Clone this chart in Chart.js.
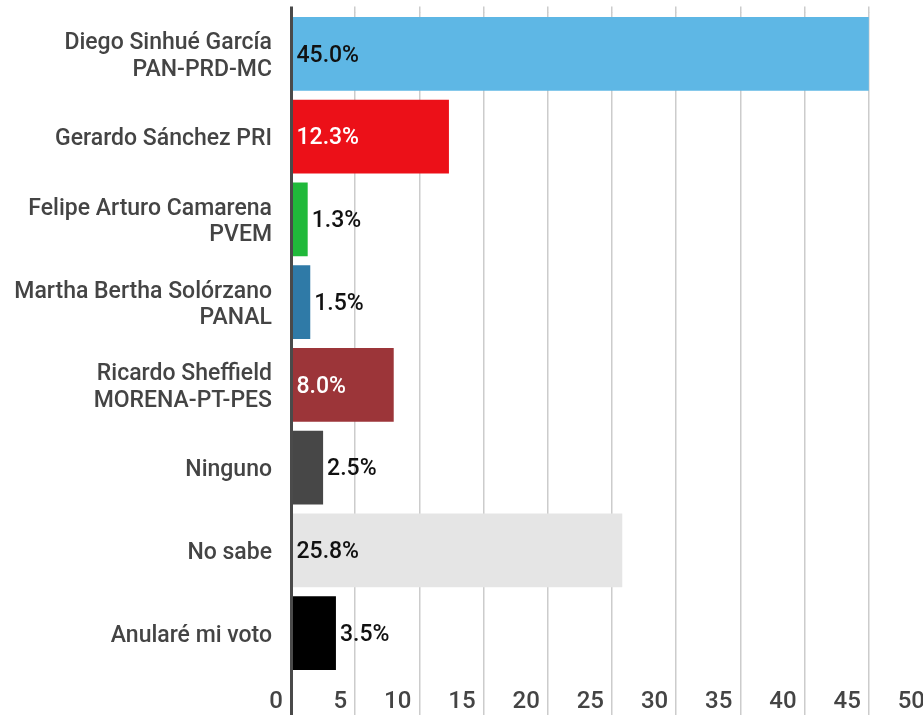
<!DOCTYPE html>
<html>
<head>
<meta charset="utf-8">
<script src="https://cdn.jsdelivr.net/npm/chart.js@4.4.1/dist/chart.umd.min.js"></script>
<style>
  html, body { margin: 0; padding: 0; background: #fff; overflow: hidden; }
  #wrap { width: 940px; height: 715px; }
</style>
</head>
<body>
<div id="wrap"><canvas id="chart" width="940" height="715"></canvas></div>
<script>
const categories = [
    ['Diego Sinhué García', 'PAN-PRD-MC'],
    'Gerardo Sánchez PRI',
    ['Felipe Arturo Camarena', 'PVEM'],
    ['Martha Bertha Solórzano', 'PANAL'],
    ['Ricardo Sheffield', 'MORENA-PT-PES'],
    'Ninguno',
    'No sabe',
    'Anularé mi voto'
];
const values = [45.0, 12.3, 1.3, 1.5, 8.0, 2.5, 25.8, 3.5];
const barColors = ['#5eb7e5', '#ec1018', '#20b93a', '#2f7aa7', '#9c3539', '#474747', '#e5e5e5', '#000000'];
const labelColors = ['#111', '#fff', '#111', '#111', '#fff', '#111', '#111', '#111'];
const xTicks = [0, 5, 10, 15, 20, 25, 30, 35, 40, 45, 50];

// value labels: inside the bar start for big bars, after the bar end for small ones
const valueLabels = {
    id: 'valueLabels',
    afterDatasetsDraw(chart) {
        const ctx = chart.ctx;
        const meta = chart.getDatasetMeta(0);
        ctx.save();
        ctx.font = '500 23px Roboto';
        ctx.textBaseline = 'middle';
        ctx.textAlign = 'left';
        meta.data.forEach(function (bar, i) {
            const v = values[i];
            ctx.fillStyle = labelColors[i];
            const x = v >= 5 ? bar.base + 4 : bar.x + 4;
            ctx.fillText(v.toFixed(1) + '%', x, bar.y + 2);
        });
        ctx.restore();
    }
};

function gridColor(c) { return c.tick && c.tick.value === 0 ? '#4a4a4a' : '#cccccc'; }
function gridWidth(c) { return c.tick && c.tick.value === 0 ? 3 : 1.5; }
function fixedTicks(scale) { scale.ticks = xTicks.map(function (v) { return { value: v }; }); }

new Chart(document.getElementById('chart').getContext('2d'), {
    type: 'bar',
    data: {
        labels: categories,
        datasets: [{
            data: values,
            backgroundColor: barColors,
            borderWidth: 0,
            barPercentage: 0.89,
            categoryPercentage: 1.0
        }]
    },
    options: {
        indexAxis: 'y',
        responsive: false,
        animation: false,
        layout: { padding: { top: 7, right: 7, left: 0, bottom: 0 } },
        plugins: {
            legend: { display: false },
            tooltip: { enabled: false }
        },
        scales: {
            x: {
                position: 'bottom',
                min: 0,
                max: 50,
                afterBuildTicks: fixedTicks,
                afterFit: function (scale) {
                    scale.height = 40.5;
                    scale.paddingLeft = 0;
                    scale.paddingRight = 0;
                },
                grid: { color: gridColor, lineWidth: gridWidth, tickLength: 42 },
                border: { display: false },
                ticks: {
                    align: 'end',
                    labelOffset: -8,
                    padding: -29,
                    maxRotation: 0,
                    autoSkip: false,
                    color: '#444',
                    font: { family: 'Roboto', size: 24, weight: '500' }
                }
            },
            x2: {
                position: 'top',
                axis: 'x',
                min: 0,
                max: 50,
                afterBuildTicks: fixedTicks,
                afterFit: function (scale) {
                    scale.height = 5.5;
                    scale.paddingLeft = 0;
                    scale.paddingRight = 0;
                },
                grid: { drawOnChartArea: false, color: gridColor, lineWidth: gridWidth, tickLength: 6 },
                border: { display: false },
                ticks: { display: false }
            },
            y: {
                afterFit: function (scale) {
                    scale.width = 291;
                    scale.paddingTop = 0;
                    scale.paddingBottom = 0;
                },
                grid: { display: false, drawTicks: false },
                border: { display: true, color: '#4a4a4a', width: 3, z: 1 },
                ticks: {
                    padding: 19,
                    labelOffset: 3,
                    color: '#444',
                    font: { family: 'Roboto', size: 23, weight: '500', lineHeight: 1.16 }
                }
            }
        }
    },
    plugins: [valueLabels]
});
</script>
</body>
</html>
